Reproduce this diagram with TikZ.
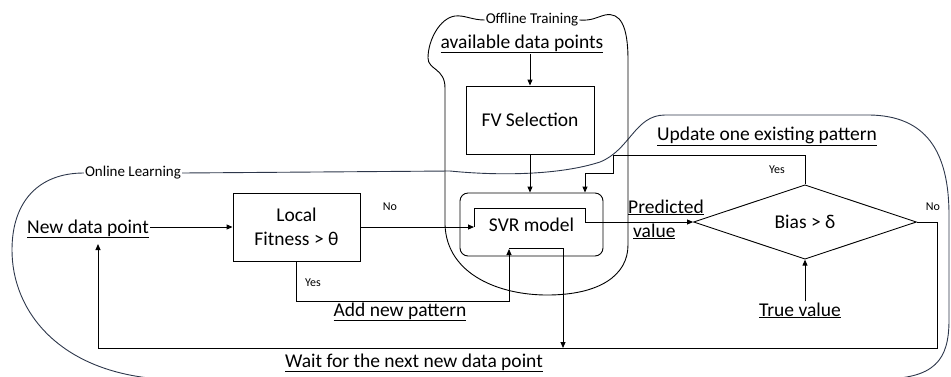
\documentclass[tikz,border=0pt]{standalone}
\usepackage{fontspec}
\setmainfont{Carlito}
\usetikzlibrary{arrows.meta,shapes.geometric}
\begin{document}
\begin{tikzpicture}[x=1pt,y=-1pt,
  line/.style={draw=black, line width=0.9pt},
  arr/.style={line, -{Triangle[length=6pt,width=5pt]}},
  boxn/.style={draw=black, line width=0.9pt, inner sep=0pt},
  big/.style={font=\fontsize{19.5}{24}\selectfont},
  lbl/.style={big, inner sep=1pt},
  small/.style={font=\fontsize{12}{14}\selectfont, inner sep=1pt},
  grp/.style={font=\fontsize{15}{17}\selectfont, inner sep=1pt},
  oncurve/.style={draw={rgb,255:red,45;green,55;blue,75}, line width=0.9pt},
  offcurve/.style={draw=black, line width=0.9pt}]
\useasboundingbox (0,0) rectangle (951,376);

% group labels
\node[grp] (og) at (133,173) {Online Learning};
\node[grp] (ot) at (532,20) {Offline Training};

% group outlines
\begin{scope}
\clip (0,0) rectangle (951,376);
\draw[oncurve] (og.west) .. controls (40,173) and (12,200) .. (12,250)
  .. controls (12,312) and (60,372) .. (160,379) -- (880,379)
  .. controls (935,379) and (949,360) .. (949,320) -- (949,215)
  .. controls (949,150) and (925,116) .. (870,115) -- (665,115)
  .. controls (635,115) and (630,150) .. (600,162)
  .. controls (560,175) and (500,176) .. (450,171) -- (og.east);
\draw[offcurve] (ot.west) .. controls (472,20) and (465,15) .. (455,16)
  .. controls (440,18) and (428,40) .. (428,58)
  .. controls (428,70) and (445,68) .. (445,88) -- (445,225)
  .. controls (447,275) and (500,295) .. (547,295)
  .. controls (600,295) and (628,275) .. (628,245) -- (628,60)
  .. controls (628,25) and (620,12) .. (605,15)
  .. controls (597,17) and (592,21) .. (ot.east);
\end{scope}

% boxes
\node[boxn, big, minimum width=127pt, minimum height=68pt, align=center] (lf) at (296.5,227) {Local\\Fitness > θ};
\node[boxn, big, minimum width=128pt, minimum height=68pt] (fv) at (530,120) {FV Selection};
\node[boxn, big, rounded corners=8pt, minimum width=143pt, minimum height=63pt] (svr) at (531.5,224.5) {SVR model};
\node[boxn, big, diamond, minimum width=223pt, minimum height=66pt] (bias) at (805,222) {Bias > δ};

% text labels
\node[lbl, anchor=base] (avail) at (522,48) {\underline{available data points}};
\node[lbl, anchor=base] (ndp) at (88,233) {\underline{New data point}};
\node[lbl, anchor=base] (anp) at (400,316) {\underline{Add new pattern}};
\node[lbl, anchor=base] (wait) at (414,367) {\underline{Wait for the next new data point}};
\node[lbl, anchor=base] (upd) at (767,140) {\underline{Update one existing pattern}};
\node[lbl, anchor=base west] (pv1) at (627,213) {\underline{Predicted}};
\node[lbl, anchor=base west] (pv2) at (632,237) {\underline{value}};
\node[lbl, anchor=base] (tv) at (800,316) {\underline{True value}};

% small labels
\node[small] (no1) at (390,207) {No};
\node[small] (yes1) at (313,283) {Yes};
\node[small] (yes2) at (777,170) {Yes};
\node[small] (no2) at (933,207) {No};

% helper coordinates
\coordinate (noIn) at (474,227);
\coordinate (svrTop) at (585,208);
\coordinate (updA) at (613,155);
\coordinate (updB) at (585,173);
\coordinate (addCorner) at (509,301);
\coordinate (addIn) at (509,249);
\coordinate (svrOut) at (509,248);
\coordinate (waitJoin) at (563,348);
\coordinate (noCorner) at (937,348);
\coordinate (ndpIn) at (98,244);

% connectors
\draw[arr] (ndp.east |- lf.west) -- (lf.west);
\draw[arr] (fv.north |- avail.south) -- (fv.north);
\draw[arr] (fv.south) -- (fv.south |- svr.north);
\draw[arr] (lf.east) -- (noIn);
\draw[arr] (noIn) |- (svrTop) |- (bias.west);
\draw[arr] (bias.north) |- (updA) |- (updB) -- (updB |- svr.north);
\draw[arr] (lf.south) |- (addCorner) -- (addIn);
\draw[arr] (svrOut) -| (waitJoin);
\draw[arr] (bias.east) -| (noCorner) -| (ndpIn);
\draw[arr] (tv.north -| bias.south) -- (bias.south);
\end{tikzpicture}
\end{document}
